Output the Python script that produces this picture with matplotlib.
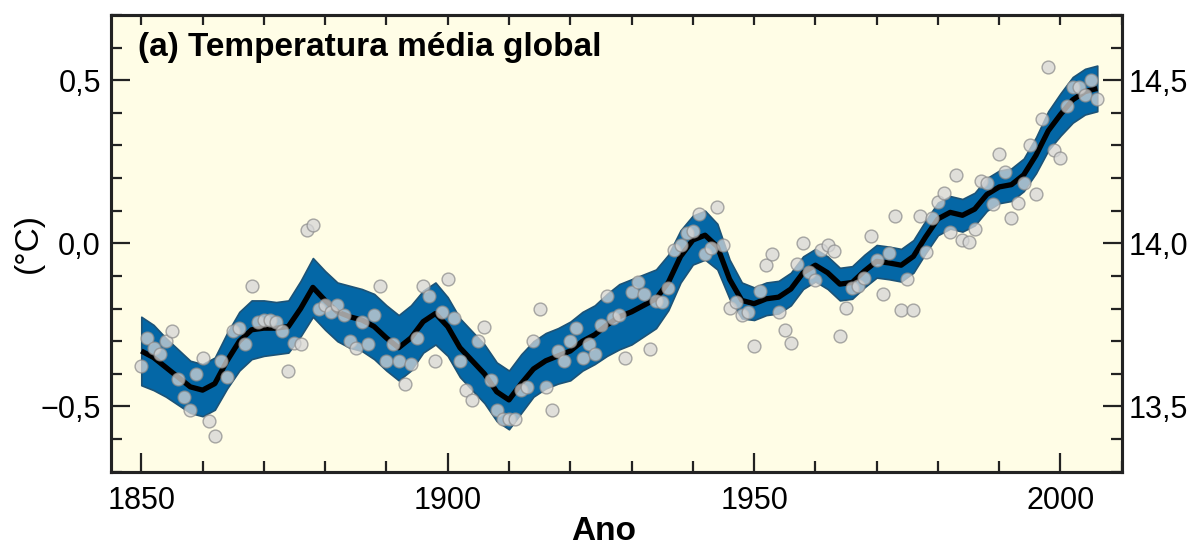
import numpy as np
import matplotlib.pyplot as plt
from matplotlib.ticker import MultipleLocator, FixedLocator

plt.rcParams['font.family'] = ['Liberation Sans', 'DejaVu Sans']

# annual global mean anomalies, 1850-2006
years = np.arange(1850, 2007)
anom = [
    -0.376, -0.29, -0.32, -0.34, -0.30, -0.27, -0.415, -0.47, -0.51, -0.40,   # 1850s
    -0.35, -0.545, -0.59, -0.36, -0.41, -0.27, -0.26, -0.31, -0.13, -0.24,    # 1860s
    -0.235, -0.235, -0.24, -0.27, -0.39, -0.305, -0.31, 0.04, 0.055, -0.20,   # 1870s
    -0.19, -0.21, -0.19, -0.22, -0.30, -0.32, -0.24, -0.31, -0.22, -0.13,     # 1880s
    -0.36, -0.31, -0.36, -0.43, -0.37, -0.29, -0.13, -0.16, -0.36, -0.21,     # 1890s
    -0.11, -0.23, -0.36, -0.45, -0.48, -0.30, -0.255, -0.42, -0.51, -0.54,    # 1900s
    -0.54, -0.54, -0.45, -0.44, -0.30, -0.20, -0.44, -0.51, -0.33, -0.36,     # 1910s
    -0.30, -0.26, -0.35, -0.31, -0.34, -0.25, -0.16, -0.23, -0.22, -0.35,     # 1920s
    -0.15, -0.117, -0.156, -0.325, -0.177, -0.18, -0.136, -0.02, -0.004, 0.033,  # 1930s
    0.038, 0.09, -0.034, -0.013, 0.11, -0.004, -0.197, -0.18, -0.22, -0.21,   # 1940s
    -0.316, -0.147, -0.065, -0.032, -0.21, -0.267, -0.305, -0.064, 0.001, -0.088,  # 1950s
    -0.113, -0.02, -0.006, -0.024, -0.285, -0.197, -0.136, -0.132, -0.105, 0.021,  # 1960s
    -0.05, -0.154, -0.03, 0.084, -0.203, -0.11, -0.203, 0.084, -0.027, 0.079,  # 1970s
    0.127, 0.155, 0.035, 0.21, 0.01, 0.004, 0.045, 0.19, 0.185, 0.12,         # 1980s
    0.273, 0.22, 0.079, 0.125, 0.186, 0.30, 0.15, 0.38, 0.54, 0.285,          # 1990s
    0.263, 0.42, 0.48, 0.48, 0.454, 0.50, 0.444,                              # 2000s
]

# smoothed curve and half width of the uncertainty band
smooth_years = [1850, 1852, 1854, 1856, 1858, 1860, 1862, 1864, 1866, 1868,
                1870, 1872, 1874, 1876, 1878, 1880, 1882, 1884, 1886, 1888,
                1890, 1892, 1894, 1896, 1898, 1900, 1902, 1904, 1906, 1908,
                1910, 1912, 1914, 1916, 1918, 1920, 1922, 1924, 1926, 1928,
                1930, 1932, 1934, 1936, 1938, 1940, 1942, 1944, 1946, 1948,
                1950, 1952, 1954, 1956, 1958, 1960, 1962, 1964, 1966, 1968,
                1970, 1972, 1974, 1976, 1978, 1980, 1982, 1984, 1986, 1988,
                1990, 1992, 1994, 1996, 1998, 2000, 2002, 2004, 2006]
smooth_vals = [-0.33, -0.35, -0.38, -0.41, -0.44, -0.45, -0.43, -0.36, -0.30, -0.265,
               -0.26, -0.26, -0.255, -0.20, -0.135, -0.175, -0.21, -0.225, -0.235, -0.255,
               -0.29, -0.32, -0.29, -0.24, -0.215, -0.255, -0.32, -0.36, -0.40, -0.455,
               -0.48, -0.43, -0.385, -0.36, -0.345, -0.33, -0.30, -0.28, -0.25, -0.225,
               -0.21, -0.19, -0.17, -0.12, -0.04, 0.01, 0.025, -0.01, -0.11, -0.175,
               -0.185, -0.17, -0.165, -0.14, -0.09, -0.067, -0.09, -0.125, -0.12, -0.085,
               -0.055, -0.06, -0.067, -0.04, 0.02, 0.075, 0.095, 0.086, 0.105, 0.15,
               0.173, 0.18, 0.21, 0.27, 0.345, 0.395, 0.44, 0.465, 0.475]
band_half = [0.105, 0.10, 0.09, 0.085, 0.08, 0.08, 0.08, 0.085, 0.09, 0.09,
             0.085, 0.08, 0.08, 0.085, 0.09, 0.09, 0.09, 0.095, 0.095, 0.10,
             0.10, 0.10, 0.10, 0.095, 0.095, 0.09, 0.09, 0.09, 0.09, 0.09,
             0.09, 0.09, 0.085, 0.085, 0.085, 0.09, 0.09, 0.09, 0.095, 0.10,
             0.10, 0.095, 0.09, 0.085, 0.08, 0.075, 0.075, 0.07, 0.06, 0.055,
             0.05, 0.05, 0.05, 0.05, 0.05, 0.05, 0.05, 0.05, 0.05, 0.05,
             0.05, 0.05, 0.05, 0.05, 0.05, 0.05, 0.05, 0.05, 0.05, 0.05,
             0.05, 0.05, 0.05, 0.055, 0.06, 0.065, 0.07, 0.07, 0.07]

smooth_vals = np.array(smooth_vals)
band_half = np.array(band_half)

fig = plt.figure(figsize=(12.04, 5.5), dpi=100)
ax = fig.add_axes([0.0919, 0.1424, 0.8398, 0.8303])
ax.set_facecolor('#fffde6')

ax.fill_between(smooth_years, smooth_vals - band_half, smooth_vals + band_half,
                color='#0467a6', edgecolor='#1d5377', lw=1.2, zorder=2)
ax.plot(smooth_years, smooth_vals, color='black', lw=3.8, zorder=3,
        solid_capstyle='butt', solid_joinstyle='round')
ax.scatter(years, anom, s=85, facecolor='#d6d6d6', edgecolor='#8c8c8c',
           lw=1.0, alpha=0.75, zorder=4)

ax.set_xlim(1845, 2010)
ax.set_ylim(-0.70, 0.70)

ax.xaxis.set_major_locator(FixedLocator([1850, 1900, 1950, 2000]))
ax.xaxis.set_minor_locator(MultipleLocator(10))
ax.yaxis.set_major_locator(FixedLocator([-0.5, 0.0, 0.5]))
ax.yaxis.set_minor_locator(MultipleLocator(0.1))
ax.set_yticklabels(['\u22120,5', '0,0', '0,5'])
ax.set_xticklabels(['1850', '1900', '1950', '2000'])

ax.tick_params(axis='both', which='major', direction='in', length=14, width=1.6,
               labelsize=22, color='#222222')
ax.tick_params(axis='both', which='minor', direction='in', length=8, width=1.6,
               color='#222222')
ax.tick_params(axis='x', which='major', pad=10)
ax.tick_params(axis='y', which='major', pad=7)
for s in ax.spines.values():
    s.set_linewidth(2.2)
    s.set_color('#222222')

# top ticks every 10 years
top = ax.secondary_xaxis('top')
top.xaxis.set_major_locator(MultipleLocator(10))
top.tick_params(direction='in', length=7, width=1.6, labeltop=False, color='#222222')
top.spines['top'].set_visible(False)

# right axis: absolute temperature
ax2 = ax.twinx()
ax2.set_ylim(14.0 - 0.70, 14.0 + 0.70)
ax2.yaxis.set_major_locator(FixedLocator([13.5, 14.0, 14.5]))
ax2.yaxis.set_minor_locator(MultipleLocator(0.1))
ax2.set_yticklabels(['13,5', '14,0', '14,5'])
ax2.tick_params(axis='y', which='major', direction='in', length=14, width=1.6,
                labelsize=22, pad=5, color='#222222')
ax2.tick_params(axis='y', which='minor', direction='in', length=8, width=1.6,
                color='#222222')
for s in ax2.spines.values():
    s.set_linewidth(2.2)
    s.set_color('#222222')

ax.text(0.027, 0.928, '(a) Temperatura média global', transform=ax.transAxes,
        fontsize=24, fontweight='bold', ha='left', va='center', zorder=6)
ax.set_xlabel('Ano', fontsize=24, fontweight='bold')
ax.xaxis.set_label_coords(0.488, -0.098)
ax.set_ylabel('(°C)', fontsize=24)
ax.yaxis.set_label_coords(-0.066, 0.5)

fig.savefig('out.png', dpi=100, facecolor='white')
